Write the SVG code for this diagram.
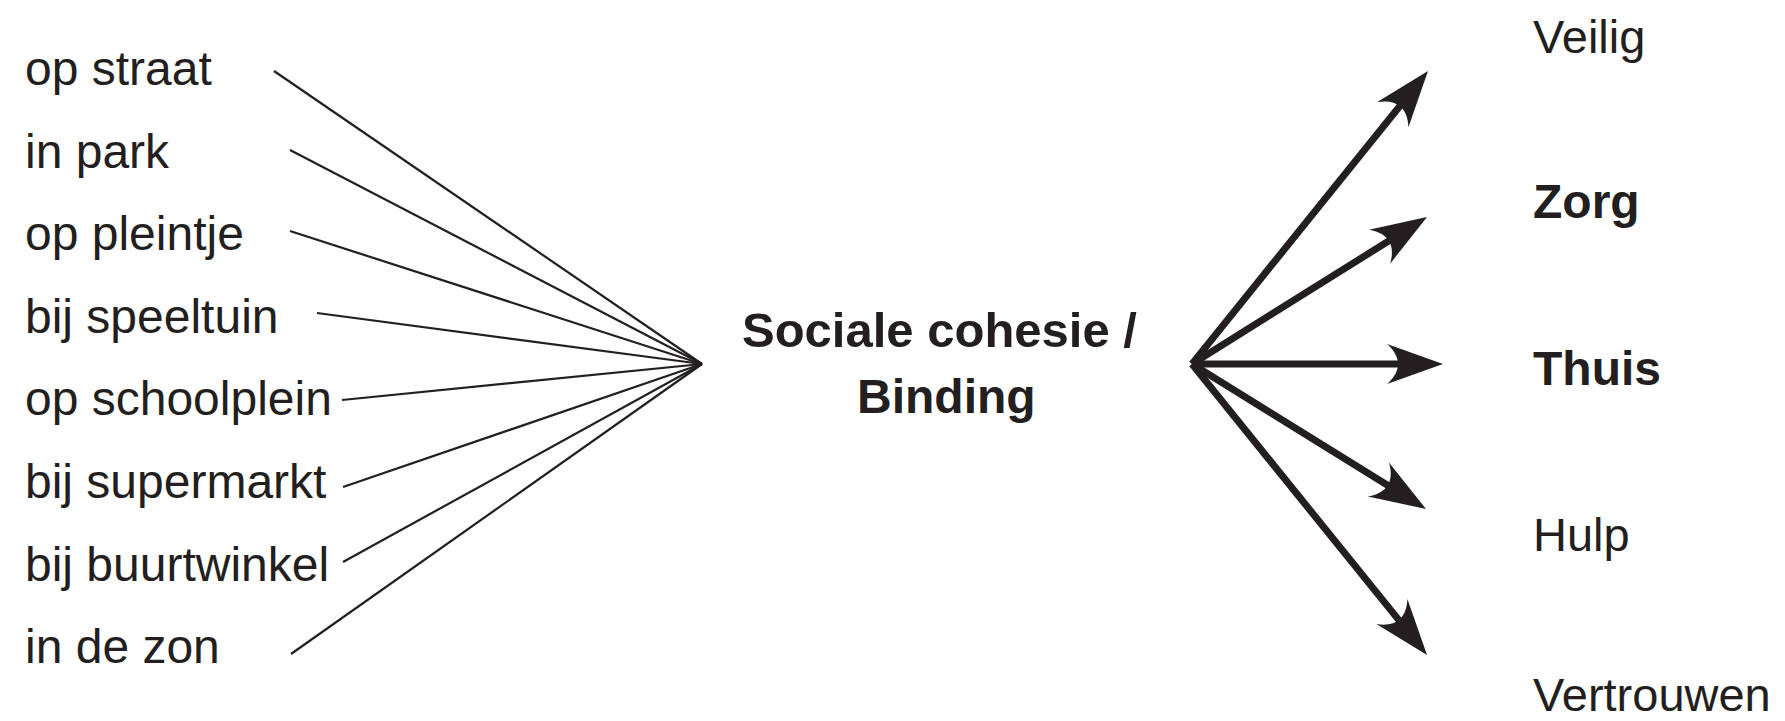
<svg xmlns="http://www.w3.org/2000/svg" width="1785" height="721" viewBox="0 0 1785 721">
<style>
.lbl{font-family:"Liberation Sans",Arial,sans-serif;font-size:48px;fill:#231f20}
.lbr{font-family:"Liberation Sans",Arial,sans-serif;font-size:47px;fill:#231f20}
.b{font-weight:bold}
.thin{stroke:#231f20;stroke-width:2.2;fill:none}
.thick{stroke:#231f20;stroke-width:7;fill:none;marker-end:url(#ah)}
</style>
<defs>
<marker id="ah" markerUnits="userSpaceOnUse" orient="auto" refX="0" refY="0" markerWidth="60" markerHeight="44" overflow="visible">
<path d="M40,0 L-16,-20 C-8,-13 -5,-6 -5,0 C-5,6 -8,13 -16,20 Z" fill="#231f20"/>
</marker>
</defs>
<rect width="1785" height="721" fill="#ffffff"/>
<g id="connectors">
<line class="thin" x1="274" y1="71" x2="702" y2="364"/>
<line class="thin" x1="290" y1="150" x2="702" y2="364"/>
<line class="thin" x1="290" y1="231" x2="702" y2="364"/>
<line class="thin" x1="317" y1="313" x2="702" y2="364"/>
<line class="thin" x1="342" y1="400" x2="702" y2="364"/>
<line class="thin" x1="343" y1="487" x2="702" y2="364"/>
<line class="thin" x1="343" y1="562" x2="702" y2="364"/>
<line class="thin" x1="291" y1="654" x2="702" y2="364"/>
<line class="thick" x1="1192" y1="364" x2="1402.9" y2="102.2"/>
<line class="thick" x1="1192" y1="364" x2="1393.1" y2="238.2"/>
<line class="thick" x1="1192" y1="364" x2="1403" y2="364"/>
<line class="thick" x1="1192" y1="364" x2="1392" y2="487.9"/>
<line class="thick" x1="1192" y1="364" x2="1401.9" y2="623.9"/>
</g>
<g id="n-op-straat"><text class="lbl" x="25" y="85">op straat</text></g>
<g id="n-in-park"><text class="lbl" x="25" y="167.5">in park</text></g>
<g id="n-op-pleintje"><text class="lbl" x="25" y="250">op pleintje</text></g>
<g id="n-bij-speeltuin"><text class="lbl" x="25" y="333">bij speeltuin</text></g>
<g id="n-op-schoolplein"><text class="lbl" x="25" y="415">op schoolplein</text></g>
<g id="n-bij-supermarkt"><text class="lbl" x="25" y="498">bij supermarkt</text></g>
<g id="n-bij-buurtwinkel"><text class="lbl" x="25" y="581">bij buurtwinkel</text></g>
<g id="n-in-de-zon"><text class="lbl" x="25" y="663">in de zon</text></g>
<g id="n-center">
<text class="lbl b" x="742" y="347" style="font-size:49px">Sociale cohesie /</text>
<text class="lbl b" x="857" y="413">Binding</text>
</g>
<g id="n-veilig"><text class="lbr" x="1533" y="53">Veilig</text></g>
<g id="n-zorg"><text class="lbl b" x="1533" y="218">Zorg</text></g>
<g id="n-thuis"><text class="lbl b" x="1533" y="385">Thuis</text></g>
<g id="n-hulp"><text class="lbr" x="1533" y="551">Hulp</text></g>
<g id="n-vertrouwen"><text class="lbr" x="1533" y="711">Vertrouwen</text></g>
</svg>
